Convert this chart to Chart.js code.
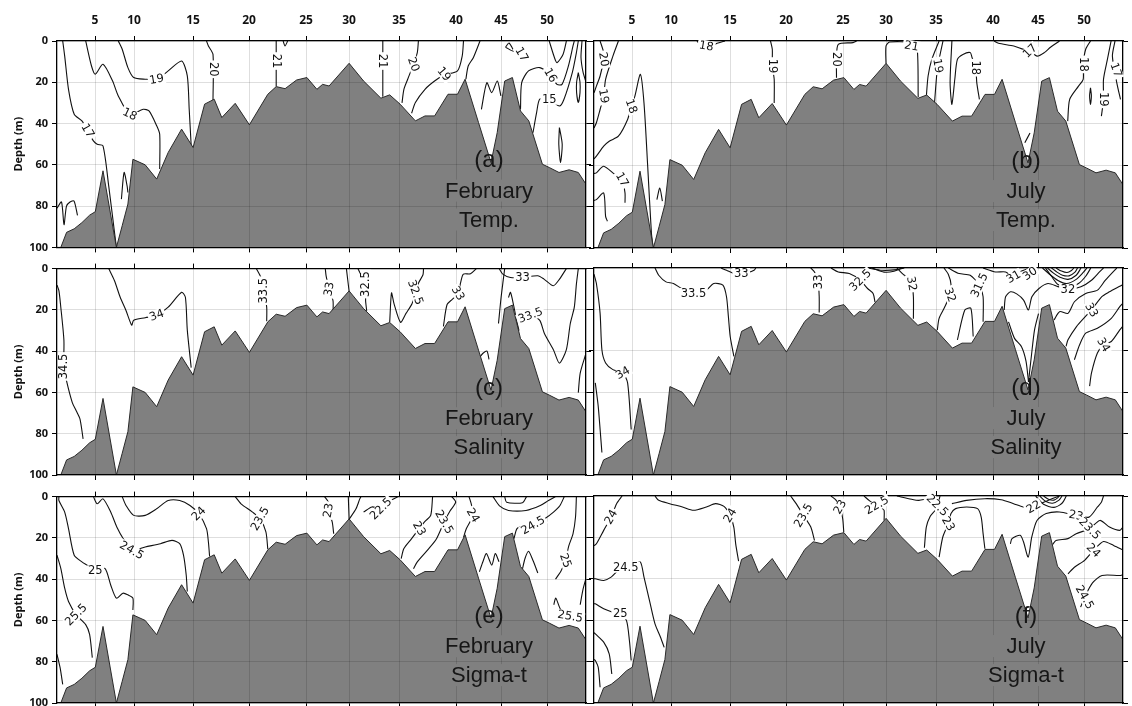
<!DOCTYPE html>
<html><head><meta charset="utf-8">
<script src="https://cdn.jsdelivr.net/npm/chart.js@4.4.0/dist/chart.umd.min.js"></script>
<style>
html,body{margin:0;padding:0;background:#fff;}
#wrap{position:relative;width:1132px;height:706px;overflow:hidden;background:#fff;}
canvas{position:absolute;}
</style></head><body><div id="wrap"></div>
<script>
// ---------------- DATA ----------------
const stationNums = [5, 10, 15, 20, 25, 30, 35, 40, 45, 50];
const stationDist = [38, 77, 136, 192, 249, 292, 342, 399, 444, 490];
const depthTicks = [0, 20, 40, 60, 80, 100];

const bathyDist = [0, 3.8, 9.6, 17.2, 24.9, 32.6, 38.3, 46, 59.4, 65.2, 70.9, 75.9, 88.2, 99.7, 111.2, 124.6, 136.1, 147.6, 157.2, 164.8, 178.2, 192.4, 210.8, 219.2, 228.1, 239.6, 249.9, 259.9, 265.6, 272.1, 292.1, 306.6, 323.9, 332.7, 343.1, 358.4, 368, 377.6, 391, 400.5, 408.1, 421.5, 434, 440.2, 447.7, 455.4, 463.5, 471.8, 485.4, 492.3, 502, 512.1, 521.3, 529];
const bathyDepth = [100, 100, 92.7, 91, 88, 84.4, 82.7, 62.9, 100, 89.5, 79, 57.3, 60, 66.9, 54, 42.7, 51.6, 30.6, 28.2, 37.1, 30.2, 40.6, 25.8, 22.1, 23.1, 18.9, 17.7, 23.4, 21, 21.8, 10.8, 19.4, 27.7, 26.1, 30.6, 38.7, 36.3, 36.3, 25.8, 25.8, 18.5, 39.5, 58.9, 44.4, 19.4, 17.7, 33.9, 38.7, 59.7, 61.3, 63.7, 62.4, 63.7, 69.4];

// contour lines: flat [dist, depth, dist, depth, ...]
const febTempLines = [
  [5.7,0, 7.7,7.3, 11.5,23.4, 17.2,35.5, 24.9,38.7, 30.7,43.5, 36.4,48.4, 40.2,50, 46,50.8, 51.7,70.2, 57.5,92.7, 59.4,100],
  [0,81, 4.5,78, 7,89, 9.5,80, 13,78, 17,77.5, 20.5,84.5],
  [64.4,76.6, 67.1,63.7, 70.1,70.2, 70.9,73.4],
  [28.7,0, 34.5,12.1, 38.3,16.1, 46,11.3, 55.6,19.4, 61.3,26.6, 72.8,35.5, 86.2,33.1, 92,33.9, 99.7,41.1, 102.7,45.2, 102.7,62],
  [61.3,0, 65.2,4, 70.9,12.9, 76.7,17.7, 88.2,18.5, 99.7,18.5, 111.2,14.5, 124.6,9.7, 130.3,16.9, 132.2,33.1, 134.2,50.8],
  [149.5,0, 151.4,2.4, 156,6.5, 156,29],
  [219.2,0, 219.2,22.1],
  [226.1,0, 228,2.4, 230.7,0],
  [325.8,0, 325.8,27],
  [361.4,0, 360.3,5.6, 356.5,11.3, 350.7,18.5, 346.9,23.4, 345,30],
  [406.5,0, 405.2,7.3, 400.5,14.5, 387,16.5, 377.6,19.4, 368,23.4, 358.4,29.8, 354.6,35],
  [423,0, 416.3,8.1, 411.2,12.1, 408.9,18.5],
  [424.4,33.1, 429.8,20.2, 434.7,25, 440.3,19.4, 443.9,26.6],
  [448.5,3, 452,1, 456.5,5, 448.5,3],
  [463.5,33.1, 464.7,20.2, 471.5,14.5, 482.8,12.9, 493.5,16.6, 500,21, 505,21, 511.4,12.1, 516,2.4, 517.3,0],
  [476,44.4, 479.6,34.7, 482.8,28.2, 492.2,28.2, 502.4,31.5, 507,28.2, 515.3,15.3, 519.4,5.6, 521.3,0],
  [492.2,0, 497.5,8.1, 500,10.5, 506,6.5, 509.4,0],
  [521.3,15.3, 523,20, 523,25, 521.3,29.8, 519.6,25, 519.6,20, 521.3,15.3],
  [502.4,41.9, 505.2,50, 503.5,58.9, 501.8,50, 502.4,41.9],
  [525,0, 524,8, 526,15, 529,20]
];
const febTempLabels = [[30.7,43.5,60,'17'], [72.8,35.5,25,'18'], [99.7,18.5,-10,'19'], [156,13.7,90,'20'], [219.2,9.7,90,'21'], [325.8,9.7,90,'21'], [356.5,11.3,70,'20'], [387,16,50,'19'], [464.7,6.5,60,'17'], [493.5,16.6,60,'16'], [492.2,28.2,0,'15']];

const julTempLines = [
  [6.1,0, 9.7,5.6, 9.7,8.9, 6.1,16.9, 2.4,21.8, 0,25],
  [24.4,0, 18.9,7.3, 11.6,18.5, 9.7,26.6, 6.1,33.1, 2.4,39.5, 0,42],
  [0,57, 2.4,55.6, 9.7,50.8, 15.2,48.4, 24.4,46, 33.6,37.9, 37.2,31.5, 40.9,26.6, 46.4,16.1, 50,30, 53.7,60.5, 57.4,92.7, 59.2,100],
  [0,64, 2.4,63.7, 9.7,60.5, 20.7,64.5, 28.1,67, 31,73.4, 31,78.2],
  [0,77, 2.4,76.6, 9.7,73.4, 11.6,84.7, 13.4,87.1],
  [62.9,76.6, 65.8,71, 68.4,77.4],
  [103,0, 108,2.5, 112.4,2.4, 118,2, 124,1, 131,0],
  [176.5,0, 178.3,4, 178.3,12.1, 180.2,18.5, 180.2,30],
  [262.6,0, 259,0.8, 244.3,1.6, 242.5,8.9, 242.5,17.7],
  [292,11, 292,2.4, 295.6,0.5, 317.6,0.8, 323.1,3.2, 324.2,27],
  [345.1,0, 337.8,8.9, 334.1,16.9, 332.3,27],
  [349,0, 345.1,8.9, 343,15, 340.5,30],
  [357.9,0, 356.1,20.2, 357.9,30.6, 360.8,18.5, 363.4,8.9, 368.9,6.5, 376.2,5.6, 378.1,8.1, 381.7,12.9, 382.8,20.2, 385.4,28.2],
  [400.1,0, 404.5,1.1, 419.8,2.4, 429.4,4, 436,4.8, 443,7.3, 450.3,5.6, 456.5,3, 465.5,0],
  [496.5,0, 491.7,4, 489.2,11.3, 489.2,18.5, 484.5,21.8, 475.7,28.2, 473.7,38.7],
  [517.1,0, 513.4,8.9, 509.5,18.5, 509.5,28.2, 507.4,36.3],
  [521,0, 518.4,7.3, 522.8,20.2, 526.5,28.2],
  [496.5,22.6, 497.4,26.5, 496.5,30.6, 495.6,26.5, 496.5,22.6],
  [430.8,49.2, 436,44.4]
];
const julTempLabels = [[9.7,8.9,80,'20'], [9.7,26.6,80,'19'], [37.2,31.5,70,'18'], [28.1,67,60,'17'], [112.4,2.4,10,'18'], [178.3,12.1,90,'19'], [242.5,8.9,90,'20'], [317.6,2.4,10,'21'], [344,12,80,'19'], [381.7,12.9,90,'18'], [436,4.8,-45,'17'], [489.2,11.3,90,'18'], [509.5,28.2,90,'19'], [522,14,70,'17']];

const febSalLines = [
  [0,8, 1.9,10.7, 3.8,18.7, 6.9,34.6, 6.9,47.4, 9.6,54.5, 15.3,64.9, 19.2,68.9, 23,72.9, 26.1,82.5],
  [51.7,0, 57.5,5.9, 63.2,13.9, 69,20.3, 74.7,27.4, 76.7,25, 88.2,23.8, 99.7,22.6, 111.2,18.7, 124.6,11.5, 128.4,13.9, 130.3,29.8, 134.2,48],
  [199.3,0, 203.9,4.3, 207,10.7, 209.7,18.7, 209.7,25.5],
  [268.3,0, 269.1,3.5, 272.1,9.9, 276,15.5, 276,21.5],
  [289.4,0, 292.1,11],
  [300.9,0, 302.8,1.9, 308.6,7.5, 308.6,15.5, 309.7,20.5],
  [332.7,26, 334.5,11.8, 337,17, 343.5,26, 349,21.7, 355,17, 358.4,11.5, 362,6.5, 366,3, 366.5,0],
  [419.4,0, 413.5,2.5, 406.4,2.7, 403.5,7, 401,12.3, 395,15, 390,17.5, 386.4,28],
  [423.5,42.5, 426,41, 430,40, 432,44],
  [441.5,26.6, 444.1,13.9, 447.7,0],
  [442.2,0, 445.8,2.7, 453.5,4.3, 465.5,4.3, 480.8,3.5, 487,5.1, 496.3,8.3, 502.5,5.1, 509.3,0],
  [451.5,14, 453.5,11.5, 456.7,18, 460,26, 462,30],
  [462,22, 473.5,22.6, 482.6,25, 487.4,31.4, 496.5,39.4, 502.4,45.8, 509.3,39.4, 513.3,26.6, 517.3,18.7, 519.4,7.5, 521.3,0],
  [521.3,60.1, 523.2,50.6, 529,41]
];
const febSalLabels = [[6.9,47.4,-90,'34.5'], [99.7,22.6,-20,'34'], [207,10.7,-90,'33.5'], [272.1,9.9,-80,'33'], [308.6,7.5,-90,'32.5'], [358.4,11.5,70,'32.5'], [401,12,60,'33'], [465.5,4.3,0,'33'], [473.5,22.6,-20,'33.5']];

const julSalLines = [
  [0,3, 2.4,7.5, 6.1,21.9, 7.9,39.5, 11.6,45.9, 18.9,49.1, 28.8,50.7, 33.6,55.5, 37.2,78],
  [1.3,55.5, 4.2,66.7, 6.1,77.9, 7.9,89.1],
  [61,0, 64.7,3.5, 72,6.7, 79.4,7.5, 88,10, 99.5,12.3, 112.4,10.7, 119.7,7.5, 128.9,8.3, 132.5,13.9, 134.4,23.5, 136.2,33.1, 139.9,42.7],
  [127,0, 132.5,1.1, 140,2.7, 147.2,2.7, 154,2.2, 160,1.1, 161.8,0],
  [216.8,0, 220.5,1.9, 224.1,6.7, 225.2,13.9, 225.2,21.5],
  [237,0, 244.3,1.9, 255.3,2.7, 266.3,5.9, 273.6,9.9, 279.1,12.3, 281,16.5],
  [273.6,0, 288.3,1.1, 302.9,0.8, 310.3,0],
  [278,0, 290,2, 300,1.6, 308,0],
  [302.9,0, 308.4,2.7, 314,5, 317.6,7.5, 319.4,13.9, 319.4,24.5],
  [343.3,30, 345.1,24.3, 350.6,19, 355,14, 357,8, 354.3,3, 350,0],
  [354.3,0, 365.2,2.7, 376.2,3.5, 385.4,8.3, 389.1,13.9, 389.1,26],
  [363.4,34.7, 370.8,20.3, 376.9,19.5, 379.2,33.1],
  [389,0, 401.5,1.9, 411.6,1.9, 419.5,4.3, 425.5,1.9, 436,0],
  [448.5,0, 455.5,3, 464,6, 472.5,7.5, 482.2,5.5, 489.5,2, 493,0],
  [453.5,0, 459.5,2.5, 466,4.5, 474,5.5, 482.2,3.5, 487,0],
  [457.5,0, 463,2, 468.5,3.5, 475,3.8, 481,2, 483.5,0],
  [462,0, 467.5,1.5, 473,2.2, 477.5,1.2, 479.8,0],
  [451.5,0, 457.5,4, 464,8, 474,9.5, 484.5,7.5, 491.7,4, 496.8,0],
  [410.2,20.3, 411.6,13.9, 416.5,11.5, 422.7,12.5, 429.6,15.5, 434.4,20.3, 437.9,13.9, 445,9.9, 454,7.5, 464,9, 473.9,10.4, 486.9,9.1, 497.5,5.9, 505.5,1.9, 509.5,0],
  [522.8,0, 511.4,5.9, 503.5,10.7, 491.7,12.3, 480.4,16.3, 474,21.9, 465.6,21.1, 460,25.1],
  [529,8, 524.7,9.1, 515.5,11.5, 507.6,13.9, 497.5,20.3, 491.3,23.5, 482.5,28.3, 474,34.7, 472,37.9],
  [529,17, 525.8,18.7, 517.3,24.3, 503.4,29.1, 491.7,31.5, 485.6,37.1, 480.4,44.3],
  [529,28, 525.8,29.9, 517.3,35.5, 509.5,37.1, 503.4,41.1, 497.5,50.7, 495.6,57.1],
  [414.5,26, 420.5,34, 427.5,38, 432,45, 434.5,55],
  [434.5,55, 437.5,42, 440.5,30, 444.5,22]
];
const julSalLabels = [[28.8,50.7,-30,'34'], [99.5,12.3,0,'33.5'], [147.2,2.7,0,'33'], [224.1,6.7,-90,'33'], [266.3,5.9,-45,'32.5'], [317.6,7.5,80,'32'], [356,13,70,'32'], [385.4,8.3,-65,'31.5'], [419.5,4.3,-30,'31'], [436,2.7,-35,'30'], [473.9,10.4,0,'32'], [497.5,20.3,60,'33'], [509.5,37.1,60,'34']];

const febSigLines = [
  [0,28.4, 3.8,34.8, 7.7,44.4, 11.5,50.8, 19.2,57.2, 28.7,62, 32.6,66.8, 35.3,78],
  [0,76.4, 3.1,82.9, 5.7,91],
  [1.9,0, 1.9,1.9, 7.7,7.5, 11.5,15.5, 17.2,28.4, 24.9,31.6, 31,33.5, 38.3,36, 47.9,34.8, 53.7,42.8, 59.4,49.2, 65.9,46.8, 70.9,47.6, 75.9,49.2, 75.9,55],
  [36.4,0, 40.2,3.5, 46,1.1, 53.7,7.5, 59.8,14.7, 67,21, 74.7,26, 88.2,24.4, 103.5,22.8, 115,21.2, 122.7,22.8, 126.5,28.4, 129.2,38, 130.3,46],
  [65.2,0, 69,4.3, 76.7,9.1, 88.2,9.1, 99.7,5.9, 111.2,1.9, 122.7,1.9, 133,4.3, 141.8,8.3, 149.5,15.5, 151.4,22, 152.6,29],
  [178.2,0, 184,3.5, 195.5,7.5, 203.1,10.7, 208.9,17.1, 210.8,25.5],
  [267.5,0, 271.4,2.7, 271.4,6.7, 275.2,12.3, 276.7,18],
  [291.3,0, 292.1,11],
  [292.1,11, 299,5.9, 302.8,1.1, 304,0],
  [306.6,7.5, 315,5, 323.9,5.9, 333.5,1.9, 341.1,0],
  [375.6,0, 373.7,9.1, 368,12, 362.2,15.5, 354.6,20.4, 346.9,25.2, 344.2,30],
  [394.8,0, 398.7,2.7, 393,7, 387.1,12.3, 379.5,20.4, 371.8,25.2, 360.3,31.6, 356.5,35],
  [412,0, 414.5,4, 416,9.1, 409.4,15.5, 406.6,19.6],
  [422.4,36.4, 425.9,31.6, 429.4,27.6, 434.8,33.2, 438.3,27.6, 442,31.6],
  [447.7,0, 449.6,2.7, 465.5,3, 469.5,0],
  [436,0, 442.5,4.5, 451.5,6.7, 469,6.7, 483.3,4.3, 491.5,1.9, 498.5,0],
  [457,20.4, 460,15.5, 466,14.5, 476,13.9, 487.7,10.7, 496.5,7.5, 503,4.3, 507.3,0],
  [519.4,0, 518.5,10, 516,18, 511.7,24, 508.5,31, 504,36, 498.5,40],
  [465.5,35, 468,30, 471.5,26.5, 476,31, 480.8,37],
  [496.8,52.4, 498.8,49.2, 504,55, 513.3,58, 520,57],
  [523.2,52.4, 526,45, 529,39.6]
];
const febSigLabels = [[19.2,57.2,-45,'25.5'], [38.3,36,0,'25'], [74.7,26,30,'24.5'], [141.8,8.3,-45,'24'], [203.1,10.7,-60,'23.5'], [271.4,6.7,-80,'23'], [323.9,5.9,-45,'22.5'], [362.2,15.5,60,'23'], [387.1,12.3,60,'23.5'], [416,9.1,60,'24'], [476,13.9,-30,'24.5'], [508.5,31,70,'25'], [513.3,58,10,'25.5']];

const julSigLines = [
  [28.1,0, 22.6,3.7, 17.1,10.2, 9.7,16.6, 2.4,23.1, 0,24],
  [0,40, 1.3,40, 9.7,40.8, 17.1,39.2, 24,36, 31.7,34.4, 40,33, 46.4,31.9, 50,39.2, 55.5,50.5, 61,61.8, 66.5,68.2, 70.2,73.1],
  [0,52, 1.3,52.1, 9.7,54.5, 18,56, 26.2,56.9, 32.5,60.2, 35.4,69.8, 37.2,79.5],
  [0,66, 1.3,66.6, 9.7,70.6, 15.2,76.3, 17.8,86],
  [0,79, 1.3,79.5, 4.2,82.7, 6.1,92.4],
  [61,0, 64.7,2.1, 75.7,3.7, 88.5,5.3, 99.5,6.9, 112.4,5.3, 121.5,3.7, 130,5, 136.2,9.4, 139.8,15, 141.7,23.1, 144.6,31.5],
  [196.6,0, 202.2,3.7, 209.5,9.4, 216.8,15, 220.5,21.5],
  [237,0, 242,2, 246.1,5.3, 248.7,11, 249.8,17.5],
  [270,0, 276,2.5, 282.8,4.5, 288,6, 290.1,6.9, 290.1,11.8],
  [302.9,0, 317.6,1.6, 324.9,2.1, 339.6,0.5, 342,0],
  [330.4,25, 332.3,15, 336,10, 341,7, 343.3,4.5, 345,2, 346,0],
  [345.1,29.5, 348.8,19.8, 354.3,13.4, 357,8.5, 361.6,6.1, 372.6,5.3, 383.6,6.1, 387.2,10.2, 389.1,18.2, 390.9,25.5],
  [357.9,3.7, 372.6,2.1, 390.9,1.3, 407.2,1.8, 419.6,3.7, 429.4,5.3, 439.5,5.3, 450.3,2.9, 457.9,1.3, 465.5,0],
  [445.7,0, 451.5,2.5, 458.5,3.5, 465,2, 468,0],
  [449.5,0, 454.5,1.6, 460,2, 464,0.8, 465,0],
  [441.7,0, 449.5,4, 460,5.5, 468,3.5, 472.3,0],
  [416.4,23.1, 418,20.6, 426.2,19, 429.4,22, 434.2,29.5, 437.8,19.8, 443,11.8, 452.2,8.5, 465.5,7.7, 482,9.4, 495,10.2, 503.5,5.3, 507.5,2.9, 509.5,0],
  [529,15, 525.8,16.6, 515.5,15, 505.9,11.8, 495.7,15.8, 482.2,18.2, 473.9,20.6, 462,21.5, 458.5,23.5],
  [529,26, 520,24, 509.5,22, 499.5,26.3, 490.6,31.1, 480.4,34.4, 474,37.6],
  [529,38, 525.8,38.4, 508,38.4, 498.5,42, 490.6,48.9, 486.6,53.7]
];
const julSigLabels = [[17.1,10.2,-60,'24'], [31.7,34.4,0,'24.5'], [26.2,56.9,0,'25'], [136.2,9.4,-60,'24'], [209.5,9.4,-60,'23.5'], [246.1,5.3,-60,'23'], [282.8,4.5,-30,'22.5'], [343.3,4.5,45,'22.5'], [354.3,13.4,60,'23'], [439.5,5.3,-30,'22'], [482,9.4,10,'23'], [495.7,15.8,45,'23.5'], [499.5,26.3,45,'24'], [490.6,48.9,60,'24.5']];

const febTempText = ['(a)', 'February', 'Temp.'];
const julTempText = ['(b)', 'July', 'Temp.'];
const febSalText = ['(c)', 'February', 'Salinity'];
const julSalText = ['(d)', 'July', 'Salinity'];
const febSigText = ['(e)', 'February', 'Sigma-t'];
const julSigText = ['(f)', 'July', 'Sigma-t'];

// ---------------- LAYOUT ----------------
const X_MAX = 529;
const TEXT_X = 432;
const TEXT_D = [57.5, 72.5, 86.5];
const cols = [{left:0, width:592, leftW:57, rightW:6}, {left:588, width:544, leftW:6, rightW:9}];
const rows = [{top:0, height:258, topH:41, bottomH:10}, {top:258, height:228, topH:10, bottomH:11}, {top:486, height:230, topH:10, bottomH:13}];

const panels = [
  {col:0, row:0, lines:febTempLines, labels:febTempLabels, texts:febTempText},
  {col:1, row:0, lines:julTempLines, labels:julTempLabels, texts:julTempText},
  {col:0, row:1, lines:febSalLines, labels:febSalLabels, texts:febSalText},
  {col:1, row:1, lines:julSalLines, labels:julSalLabels, texts:julSalText},
  {col:0, row:2, lines:febSigLines, labels:febSigLabels, texts:febSigText},
  {col:1, row:2, lines:julSigLines, labels:julSigLabels, texts:julSigText}
];

function toPts(flat) {
  const out = [];
  for (let i = 0; i < flat.length; i += 2) out.push({x: flat[i], y: flat[i + 1]});
  return out;
}

const annotPlugin = {
  id: 'annot',
  afterDraw(chart) {
    const p = chart.$panel;
    if (!p) return;
    const ctx = chart.ctx;
    const xs = chart.scales.x, ys = chart.scales.y;
    ctx.save();
    ctx.font = '11.5px "DejaVu Sans", sans-serif';
    ctx.textAlign = 'center';
    ctx.textBaseline = 'middle';
    p.labels.forEach(l => {
      const px = xs.getPixelForValue(l[0]);
      const py = ys.getPixelForValue(l[1]);
      ctx.save();
      ctx.translate(px, py);
      ctx.rotate(l[2] * Math.PI / 180);
      const w = ctx.measureText(l[3]).width;
      ctx.fillStyle = '#ffffff';
      ctx.fillRect(-w / 2 - 1.5, -5.5, w + 3, 11);
      ctx.fillStyle = '#111';
      ctx.fillText(l[3], 0, 0.5);
      ctx.restore();
    });
    p.texts.forEach((t, i) => {
      const px = xs.getPixelForValue(TEXT_X);
      const py = ys.getPixelForValue(TEXT_D[i]);
      ctx.font = (i === 0 ? '24px' : '22px') + ' "Liberation Sans", Arial, sans-serif';
      const w = ctx.measureText(t).width;
      if (i > 0) {
        ctx.fillStyle = '#808080';
        ctx.fillRect(px - w / 2 - 14, py - 11, w + 28, 22);
      }
      ctx.fillStyle = '#161616';
      ctx.textAlign = 'center';
      ctx.textBaseline = 'middle';
      ctx.fillText(t, px, py + 1);
    });
    ctx.restore();
  }
};

Chart.defaults.font.family = '"Open Sans", "DejaVu Sans", sans-serif';
const wrap = document.getElementById('wrap');
const GRID = 'rgba(0,0,0,0.13)';

panels.forEach(p => {
  const c = cols[p.col], r = rows[p.row];
  const cv = document.createElement('canvas');
  cv.width = c.width; cv.height = r.height;
  cv.style.left = c.left + 'px'; cv.style.top = r.top + 'px';
  cv.style.width = c.width + 'px'; cv.style.height = r.height + 'px';
  wrap.appendChild(cv);

  const datasets = [{
    data: bathyDist.map((x, i) => ({x: x, y: bathyDepth[i]})),
    borderColor: '#2a2a2a', borderWidth: 1, backgroundColor: '#808080',
    fill: {value: 100}, pointRadius: 0, tension: 0
  }];
  p.lines.forEach(l => datasets.push({
    data: toPts(l), borderColor: '#111', borderWidth: 1.1, fill: false,
    pointRadius: 0, tension: 0.25
  }));

  const setStationTicks = ax => { ax.ticks = stationDist.map(v => ({value: v})); };
  const showLeft = p.col === 0;
  const showTop = p.row === 0;

  const chart = new Chart(cv, {
    type: 'line',
    data: {datasets},
    options: {
      responsive: false, animation: false, devicePixelRatio: 1, events: [],
      layout: {padding: 0},
      plugins: {legend: {display: false}, tooltip: {enabled: false}},
      scales: {
        x: {
          type: 'linear', position: 'bottom', min: 0, max: X_MAX,
          afterBuildTicks: setStationTicks,
          ticks: {display: false},
          grid: {color: GRID, tickColor: '#000', tickLength: 5, z: 1},
          border: {color: '#000', width: 1.3, z: 1},
          afterFit: s => { s.height = r.bottomH; }
        },
        x2: {
          type: 'linear', position: 'top', min: 0, max: X_MAX,
          afterBuildTicks: setStationTicks,
          ticks: {display: showTop, color: '#111', padding: 8,
                  font: {size: 12, weight: 'bold'},
                  callback: (v, i) => stationNums[i]},
          grid: {drawOnChartArea: false, tickColor: '#000', tickLength: 5, z: 1},
          border: {color: '#000', width: 1.3, z: 1},
          afterFit: s => { s.height = r.topH; }
        },
        y: {
          type: 'linear', position: 'left', reverse: true, min: 0, max: 100,
          afterBuildTicks: ax => { ax.ticks = depthTicks.map(v => ({value: v})); },
          ticks: {display: showLeft, color: '#111', padding: 4, font: {size: 11, weight: 'bold'}},
          title: {display: showLeft, text: 'Depth (m)', color: '#111', padding: {top: 12, bottom: 0},
                  font: {size: 11, weight: 'bold'}},
          grid: {color: GRID, tickColor: '#000', tickLength: 5, z: 1},
          border: {color: '#000', width: 1.3, z: 1},
          afterFit: s => { s.width = c.leftW; }
        },
        y2: {
          type: 'linear', position: 'right', reverse: true, min: 0, max: 100,
          afterBuildTicks: ax => { ax.ticks = depthTicks.map(v => ({value: v})); },
          ticks: {display: false},
          grid: {drawOnChartArea: false, tickColor: '#000', tickLength: 5, z: 1},
          border: {color: '#000', width: 1.3, z: 1},
          afterFit: s => { s.width = c.rightW; }
        }
      }
    },
    plugins: [annotPlugin]
  });
  chart.$panel = p;
  chart.draw();
});
</script>
</body></html>
